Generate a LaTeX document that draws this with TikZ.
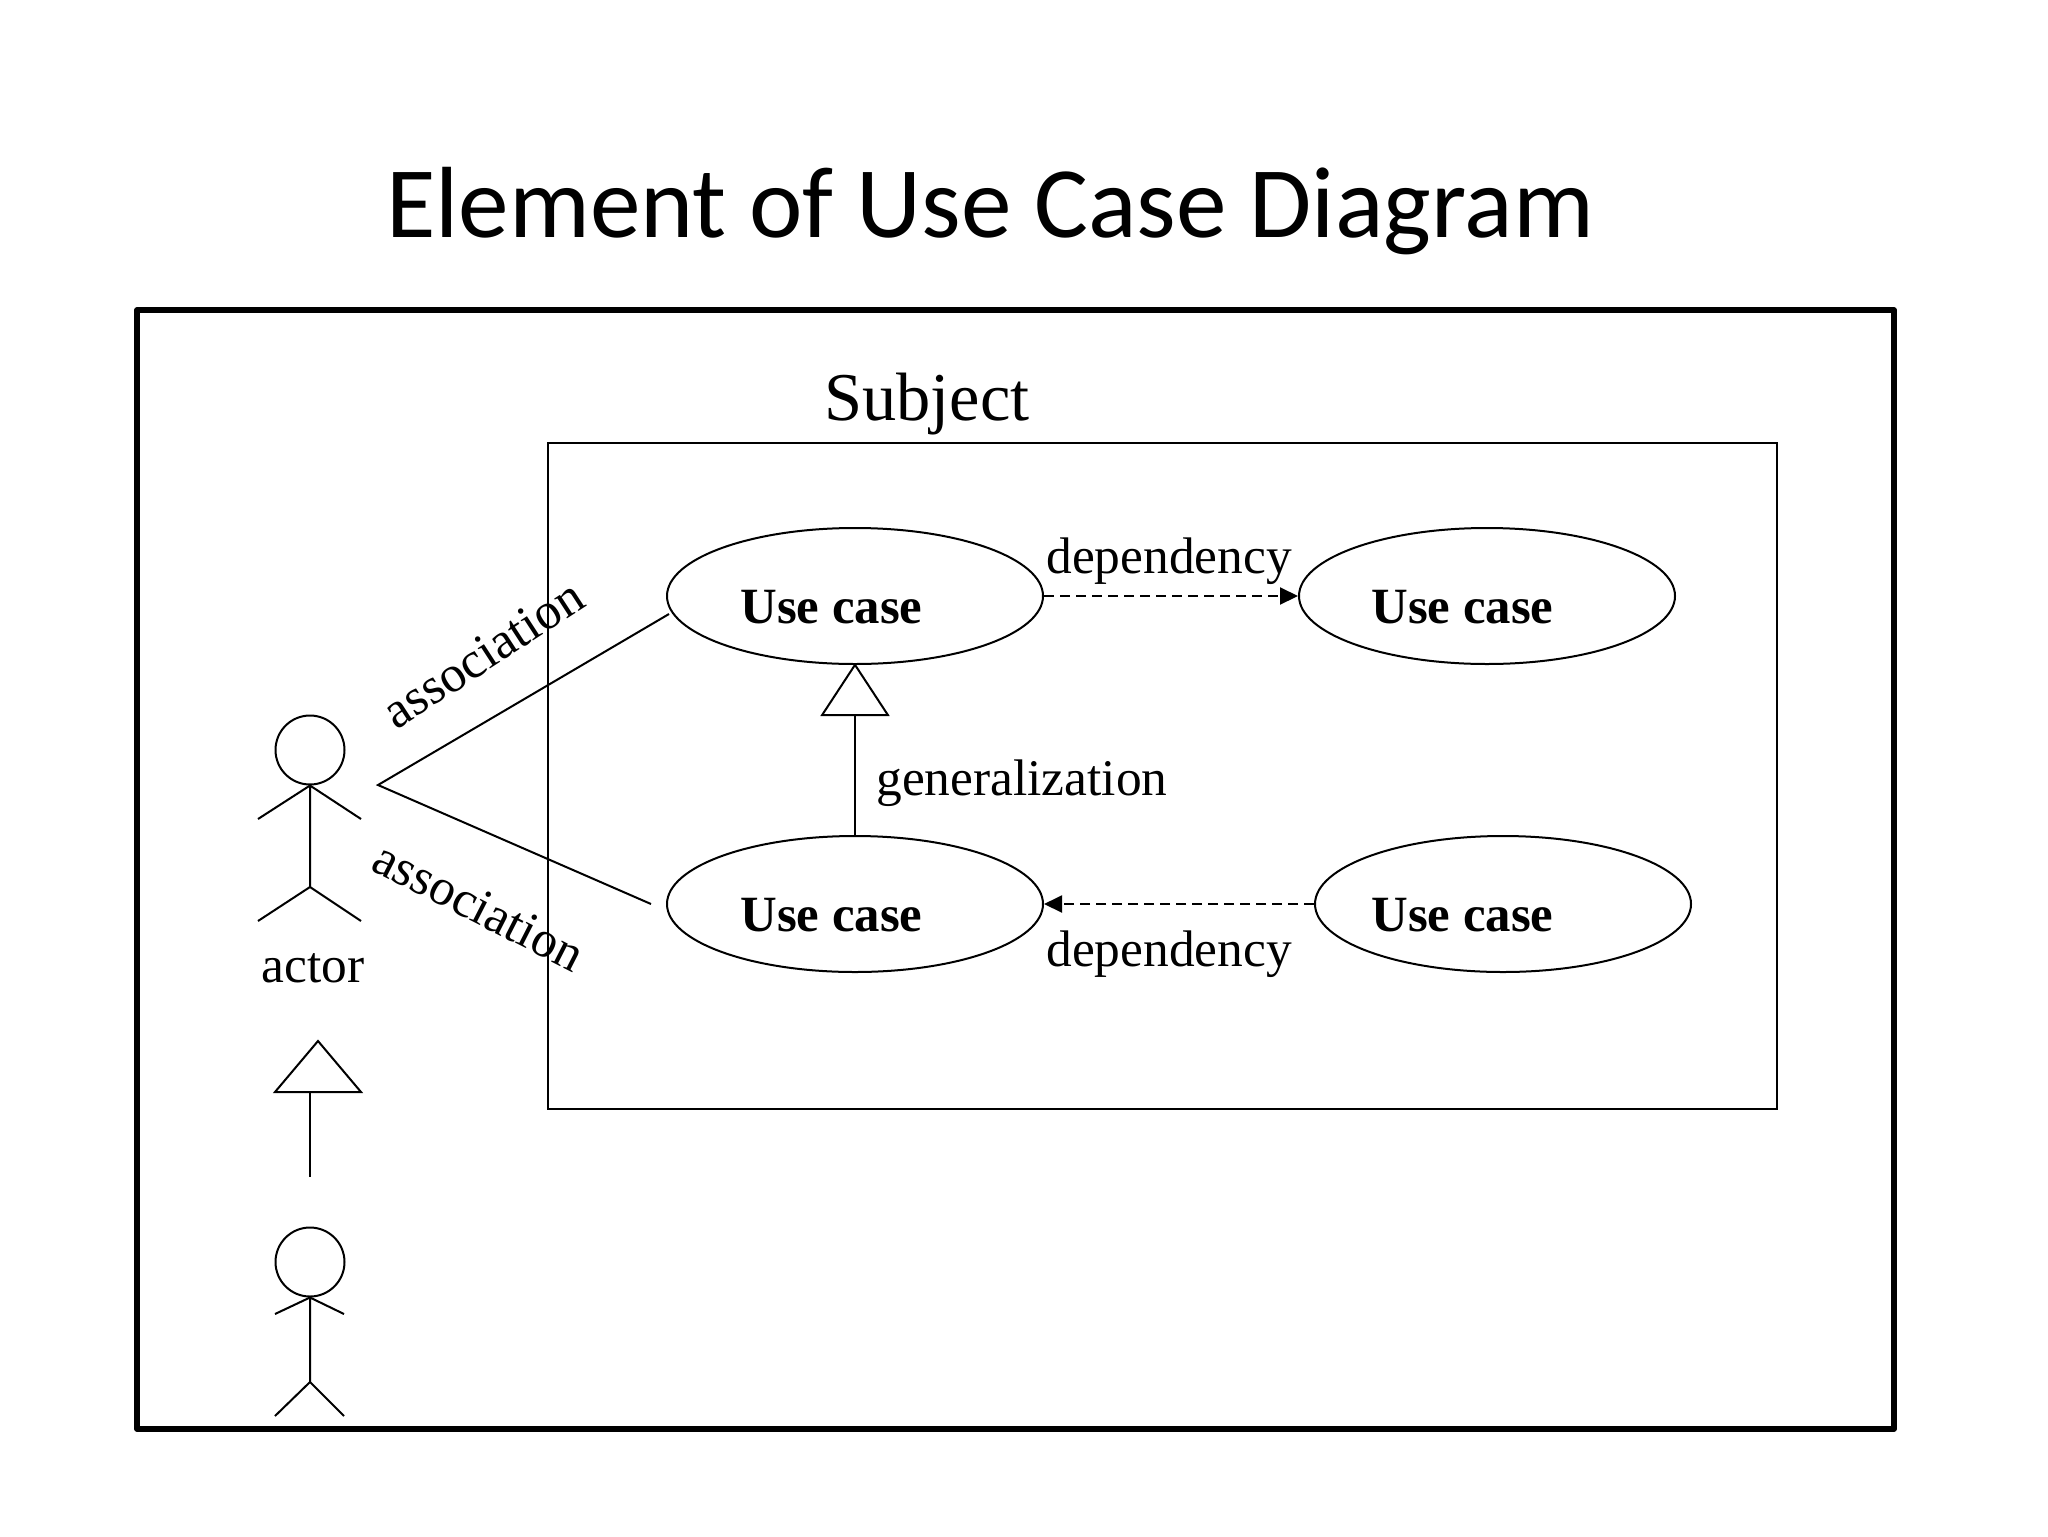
\documentclass[tikz,border=0pt]{standalone}
\usepackage{fontspec}
\setmainfont{Liberation Serif}
\newfontfamily\titlefont{Carlito}
\usetikzlibrary{shapes.geometric,arrows.meta}
\tikzset{
  x=0.5pt,y=-0.5pt,
  thinline/.style={line width=1pt,black},
  frame/.style={line width=2.6pt,black,line join=round},
  usecase/.style={draw,thinline,ellipse,inner sep=0pt,minimum width=188pt,minimum height=68pt},
  head/.style={draw,thinline,circle,inner sep=0pt,minimum size=34.5pt},
  label/.style={inner sep=0pt,anchor=base west,font=\fontsize{25.7}{30}\selectfont},
  uclabel/.style={inner sep=0pt,anchor=base west,font=\fontsize{25.4}{30}\selectfont\bfseries},
  assoc/.style={inner sep=0pt,anchor=center,font=\fontsize{25.7}{30}\selectfont},
  dep/.style={thinline,dash pattern=on 5pt off 3pt,-{Triangle[length=9pt,width=8.5pt]}},
  gen/.style={thinline,shorten >=-1pt,-{Triangle[open,fill=white,length=26.5pt,width=34.5pt]}},
}
\begin{document}
\begin{tikzpicture}
\useasboundingbox[fill=white] (0,0) rectangle (2048,1536);
\node[inner sep=0pt,anchor=base west,font=\fontsize{50.6}{60}\selectfont\titlefont] (title) at (386,237) {Element of Use Case Diagram};
\draw[frame] (137,310) rectangle (1894,1429);
\draw[thinline] (548,443) rectangle (1777,1109);
\node[label,font=\fontsize{34.2}{40}\selectfont] (subject) at (824,420) {Subject};
% use cases
\node[usecase] (uc1) at (855,596) {};
\node[usecase] (uc2) at (1487,596) {};
\node[usecase] (uc3) at (855,904) {};
\node[usecase] (uc4) at (1503,904) {};
\node[uclabel] (t1) at (740,623) {Use case};
\node[uclabel] (t2) at (1371,623) {Use case};
\node[uclabel] (t3) at (740,931) {Use case};
\node[uclabel] (t4) at (1371,931) {Use case};
% connectors
\draw[dep] (uc1.east) -- (uc2.west);
\draw[dep] (uc4.west) -- (uc3.east);
\draw[gen] (uc3.north) -- (uc1.south);
\node[label] (d1) at (1046,573) {dependency};
\node[label] (d2) at (1046,966) {dependency};
\node[label] (g1) at (876,795) {generalization};
% actor 1
\node[head] (h1) at (310,750) {};
\coordinate (n1) at (h1.south);
\coordinate (w1) at (310,887);
\coordinate (al1) at (258,819);
\coordinate (ar1) at (361,819);
\coordinate (ll1) at (258,921);
\coordinate (lr1) at (361,921);
\draw[thinline] (al1) -- (n1) -- (ar1) (n1) -- (w1) (ll1) -- (w1) -- (lr1);
\node[label] (actor) at (261,982) {actor};
% associations
\coordinate (apex) at (378,785);
\coordinate (end1) at (669,614);
\coordinate (end2) at (651,904);
\draw[thinline] (end1) -- (apex) -- (end2);
\node[assoc,rotate=33] (a1) at (483,654) {association};
\node[assoc,rotate=-27] (a2) at (479,906) {association};
% generalization between actors
\coordinate (ta) at (318,1041);
\coordinate (tl) at (275,1092);
\coordinate (tr) at (361,1092);
\coordinate (tb) at (310,1092);
\coordinate (te) at (310,1177);
\draw[thinline,line join=miter] (ta) -- (tl) -- (tr) -- cycle;
\draw[thinline] (tb) -- (te);
% actor 2
\node[head] (h2) at (310,1262) {};
\coordinate (n2) at (h2.south);
\coordinate (w2) at (310,1382);
\coordinate (al2) at (275,1314);
\coordinate (ar2) at (344,1314);
\coordinate (ll2) at (275,1416);
\coordinate (lr2) at (344,1416);
\draw[thinline] (al2) -- (n2) -- (ar2) (n2) -- (w2) (ll2) -- (w2) -- (lr2);
\end{tikzpicture}
\end{document}
